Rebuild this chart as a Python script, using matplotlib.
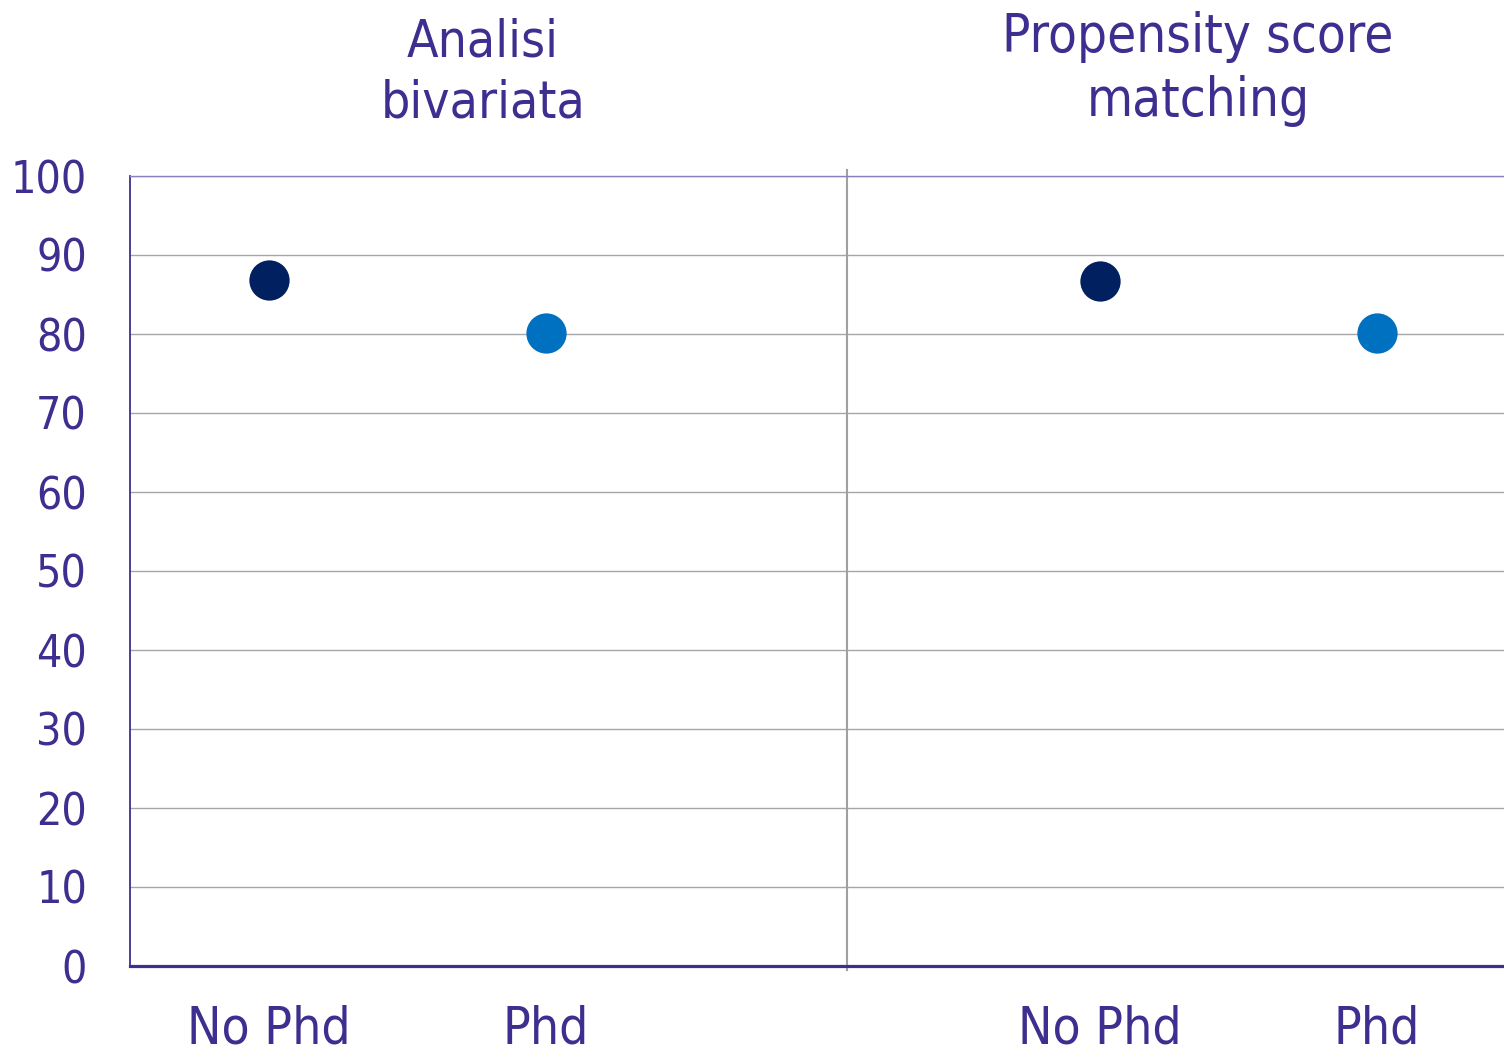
import matplotlib
matplotlib.use("Agg")
import matplotlib.pyplot as plt

# Share of respondents (%) in each group, for the two estimation methods
panels = ["Analisi\nbivariata", "Propensity score\nmatching"]
groups = ["No Phd", "Phd"]
bivariata = [86.8, 80.1]
psm = [86.7, 80.1]
yticks = list(range(0, 101, 10))

text_col = "#3D2F8F"
dot_cols = ["#00205F", "#0070C0"]
grid_col = "#A6A6A6"

plt.rcParams["font.family"] = ["DejaVu Sans"]
plt.rcParams["font.stretch"] = "condensed"

fig = plt.figure(figsize=(15.04, 10.55), dpi=100)
ax = fig.add_axes([130 / 1504, 1 - 966 / 1055, 1 - 130 / 1504, (966 - 176) / 1055])

xpos_left = [0.5, 1.5]
xpos_right = [3.5, 4.5]
for xs, vals in ((xpos_left, bivariata), (xpos_right, psm)):
    for x, v, c in zip(xs, vals, dot_cols):
        ax.plot(x, v, "o", ms=29, color=c, mec="none", zorder=3, clip_on=False)

ax.set_xlim(0, 4.96)
ax.set_ylim(0, 100)
ax.set_yticks(yticks)
ax.set_yticklabels([str(t) for t in yticks])
ax.set_xticks(xpos_left + xpos_right)
ax.set_xticklabels(groups + groups)
ax.tick_params(axis="y", length=0, pad=31, labelsize=32, labelcolor=text_col)
ax.tick_params(axis="x", length=0, pad=28, labelsize=37, labelcolor=text_col)

ax.yaxis.grid(True, color=grid_col, lw=1.0)
ax.set_axisbelow(True)

ax.spines["right"].set_visible(False)
ax.spines["left"].set_color(text_col)
ax.spines["left"].set_linewidth(1.3)
ax.spines["top"].set_color("#8A80BF")
ax.spines["top"].set_linewidth(1.0)
ax.spines["bottom"].set_color(text_col)
ax.spines["bottom"].set_linewidth(2.3)

# vertical separator between the two panels
ax.plot([2.59, 2.59], [-0.5, 100.8], color="#A0A0A0", lw=1.5, clip_on=False, zorder=1)

# panel headings
fig.text(483 / 1504, 1 - 73 / 1055, panels[0], ha="center", va="center",
         fontsize=37, color=text_col, linespacing=1.3)
fig.text(1198 / 1504, 1 - 69 / 1055, panels[1], ha="center", va="center",
         fontsize=38, color=text_col, linespacing=1.3)

fig.savefig("out.png", dpi=100)
